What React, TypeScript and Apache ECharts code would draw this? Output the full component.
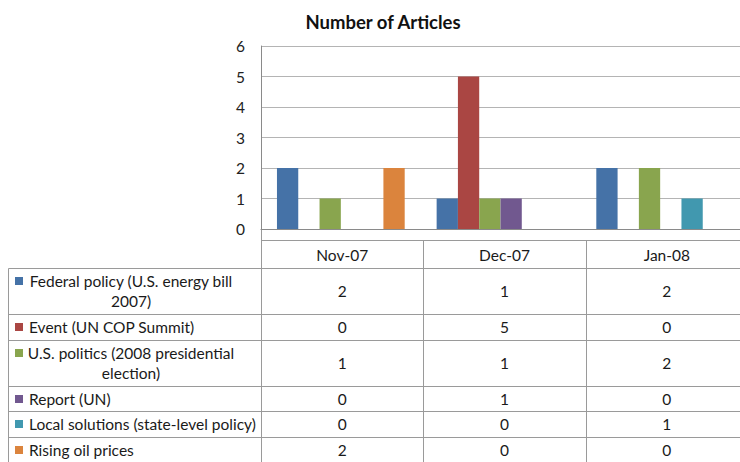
import { useEffect, useRef } from 'react';
import * as echarts from 'echarts';

// Months covered by the article count
const categories = ['Nov-07', 'Dec-07', 'Jan-08'];

// Topic names (a "\n" marks where the table cell wraps)
const topicNames = [
  'Federal policy (U.S. energy bill\n2007)',
  'Event (UN COP Summit)',
  'U.S. politics (2008 presidential\nelection)',
  'Report (UN)',
  'Local solutions (state-level policy)',
  'Rising oil prices',
];

// Articles per topic per month
const federalPolicy = [2, 1, 2];
const copSummit = [0, 5, 0];
const usPolitics = [1, 1, 2];
const unReport = [0, 1, 0];
const localSolutions = [0, 0, 1];
const oilPrices = [2, 0, 0];

const topicValues = [federalPolicy, copSummit, usPolitics, unReport, localSolutions, oilPrices];
const topicColors = ['#4572A7', '#AA4643', '#89A54E', '#71588F', '#4198AF', '#DB843D'];

// Value axis range
const yMin = 0;
const yMax = 6;
const yStep = 1;

const FONT = 'Lato, "Open Sans", sans-serif';
const FS = 15.5;
const W = 740;
const H = 462;
const GRID_LEFT = 261;
const GRID_RIGHT = -8;
const GRID_TOP = 46;
const GRID_BOTTOM = 233;

export default function App() {
  const ref = useRef<HTMLDivElement>(null);

  useEffect(() => {
    if (!ref.current) return;
    const chart = echarts.init(ref.current, undefined, { renderer: 'svg', width: W, height: H });

    const plotW = W - GRID_LEFT - GRID_RIGHT;
    const colW = plotW / categories.length;
    const tableLeft = 8.5;
    const tableRight = GRID_LEFT + plotW;
    const headerTop = 240.5;
    const headerBottom = 268.5;
    const lineColor = '#9a9a9a';
    const textColor = '#1a1a1a';

    // Row heights depend on how many text lines the topic label has
    const rowTops: number[] = [];
    let y = headerBottom;
    topicNames.forEach((name) => {
      rowTops.push(y);
      const lines = name.split('\n').length;
      y += lines === 1 ? 25.6 : 45.8;
    });
    const tableBottom = y;

    const graphics: any[] = [];
    const hline = (x1: number, x2: number, yy: number) =>
      graphics.push({ type: 'line', silent: true, shape: { x1, y1: yy, x2, y2: yy }, style: { stroke: lineColor, lineWidth: 1 } });
    const vline = (xx: number, y1: number, y2: number) =>
      graphics.push({ type: 'line', silent: true, shape: { x1: xx, y1, x2: xx, y2 }, style: { stroke: lineColor, lineWidth: 1 } });

    // Table grid
    hline(GRID_LEFT, tableRight, headerTop);
    hline(tableLeft, tableRight, headerBottom);
    rowTops.slice(1).forEach((t) => hline(tableLeft, tableRight, Math.round(t) + 0.5));
    hline(tableLeft, tableRight, Math.round(tableBottom) - 0.5);
    vline(tableLeft, headerBottom, tableBottom);
    vline(GRID_LEFT + 0.5, GRID_TOP + 183, tableBottom);
    for (let i = 1; i < categories.length; i++) {
      vline(Math.round(GRID_LEFT + i * colW) + 0.5, headerTop, tableBottom);
    }

    // Header row: month names
    categories.forEach((c, i) => {
      graphics.push({
        type: 'text',
        silent: true,
        x: GRID_LEFT + (i + 0.5) * colW,
        y: (headerTop + headerBottom) / 2,
        style: { text: c, font: `${FS}px ${FONT}`, fill: textColor, align: 'center', verticalAlign: 'middle' },
      });
    });

    // Topic rows: legend key, label, values
    topicNames.forEach((name, r) => {
      const top = rowTops[r];
      const lines = name.split('\n').length;
      const h = lines === 1 ? 25.6 : 45.8;
      const mid = top + h / 2;
      const firstLineMid = mid - (lines - 1) * 10;
      graphics.push({
        type: 'rect',
        silent: true,
        shape: { x: 15, y: Math.round(firstLineMid - 4), width: 8, height: 8 },
        style: { fill: topicColors[r] },
      });
      graphics.push({
        type: 'text',
        silent: true,
        x: lines === 1 ? 29 : 131,
        y: mid,
        style: {
          text: name,
          font: `${FS}px ${FONT}`,
          fill: textColor,
          align: lines === 1 ? 'left' : 'center',
          verticalAlign: 'middle',
          lineHeight: 20,
        },
      });
      topicValues[r].forEach((v, i) => {
        graphics.push({
          type: 'text',
          silent: true,
          x: GRID_LEFT + (i + 0.5) * colW,
          y: mid,
          style: { text: String(v), font: `${FS}px ${FONT}`, fill: textColor, align: 'center', verticalAlign: 'middle' },
        });
      });
    });

    chart.setOption({
      animation: false,
      backgroundColor: '#ffffff',
      title: {
        text: 'Number of Articles',
        left: 378,
        top: 7,
        textAlign: 'center',
        textStyle: { fontFamily: FONT, fontWeight: 'bold', fontSize: 18.5, color: '#111' },
      },
      grid: { left: GRID_LEFT, right: GRID_RIGHT, top: GRID_TOP, bottom: GRID_BOTTOM, containLabel: false },
      xAxis: {
        type: 'category',
        data: categories,
        axisLabel: { show: false },
        axisTick: { show: false },
        axisLine: { show: true, lineStyle: { color: '#8a8a8a', width: 1 } },
      },
      yAxis: {
        type: 'value',
        min: yMin,
        max: yMax,
        interval: yStep,
        axisLine: { show: true, lineStyle: { color: '#8a8a8a', width: 1 } },
        axisTick: { show: false },
        axisLabel: { fontFamily: FONT, fontSize: FS, color: '#222', margin: 16 },
        splitLine: { lineStyle: { color: '#b4b4b4', width: 1 } },
      },
      series: topicValues.map((vals, i) => ({
        type: 'bar',
        name: topicNames[i].replace('\n', ' '),
        data: vals,
        barGap: '0%',
        barCategoryGap: '20%',
        itemStyle: { color: topicColors[i] },
      })),
      graphic: graphics,
    });

    return () => chart.dispose();
  }, []);

  return <div ref={ref} style={{ position: 'fixed', left: 0, top: 0, width: W, height: H, overflow: 'hidden' }} />;
}
